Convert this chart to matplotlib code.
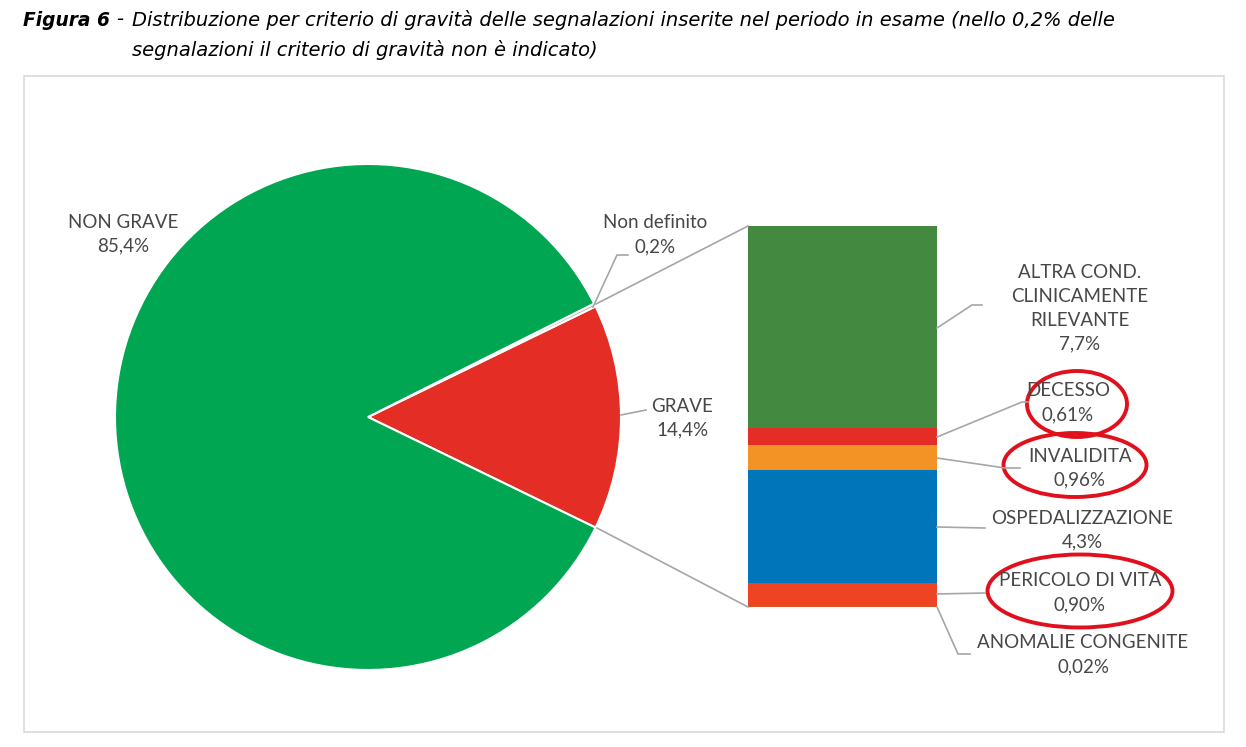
import matplotlib.pyplot as plt
from matplotlib.patches import Ellipse, Rectangle

# pie: overall severity split
pie_labels = ["GRAVE", "Non definito", "NON GRAVE"]
pie_values = [14.4, 0.2, 85.4]
pie_text = ["14,4%", "0,2%", "85,4%"]
pie_colors = ["#E42D24", "#A6A6A6", "#00A651"]

# stacked bar: breakdown of GRAVE (bottom to top)
bar_labels = ["ANOMALIE CONGENITE", "PERICOLO DI VITA", "OSPEDALIZZAZIONE",
              "INVALIDITA", "DECESSO", "ALTRA COND.\nCLINICAMENTE\nRILEVANTE"]
bar_values = [0.02, 0.90, 4.3, 0.96, 0.61, 7.7]
bar_text = ["0,02%", "0,90%", "4,3%", "0,96%", "0,61%", "7,7%"]
bar_colors = ["#D9541E", "#EE4423", "#0075B9", "#F39325", "#E52D27", "#43893F"]
circled = ["PERICOLO DI VITA", "INVALIDITA", "DECESSO"]

W, H = 1246, 747
plt.rcParams['font.family'] = ['Lato', 'DejaVu Sans']
txt_col = '#474747'
line_col = '#A6A6A6'
title_font = ['DejaVu Sans']


def Y(y):
    return H - y


fig = plt.figure(figsize=(W / 100, H / 100), dpi=100)
ax = fig.add_axes([0, 0, 1, 1])

# outer frame
ax.add_patch(Rectangle((24, Y(732)), 1200, 656, fill=False, ec='#D9D9D9', lw=1.2))

# title
tkw = dict(fontsize=14, fontstyle='italic', va='center', ha='left', color='black',
           family=title_font)
ax.text(23, Y(20), "Figura 6", fontweight='bold', **dict(tkw, fontsize=13.4))
ax.text(116, Y(20), "-", **tkw)
ax.text(132, Y(20), "Distribuzione per criterio di gravità delle segnalazioni inserite nel periodo in esame (nello 0,2% delle", **tkw)
ax.text(132, Y(50), "segnalazioni il criterio di gravità non è indicato)", **tkw)

# pie
cx, cy, r = 368, Y(417), 253
start = -pie_values[0] / sum(pie_values) * 360 / 2
ax.pie(pie_values, colors=pie_colors, startangle=start, counterclock=True,
       center=(cx, cy), radius=r, wedgeprops=dict(edgecolor='white', linewidth=1.5))

ax.text(123, Y(234), "NON GRAVE\n" + pie_text[2], fontsize=13.5, ha='center', va='center',
        color=txt_col, linespacing=1.5)
ax.text(655, Y(235), "Non definito\n" + pie_text[1], fontsize=13.5, ha='center', va='center',
        color=txt_col, linespacing=1.5)
ax.plot([593, 617, 628], [Y(307), Y(255), Y(255)], color=line_col, lw=1.2)
ax.text(682, Y(418), "GRAVE\n" + pie_text[0], fontsize=13.5, ha='center', va='center',
        color=txt_col, linespacing=1.5)
ax.plot([621, 646], [Y(415), Y(410)], color=line_col, lw=1.2)

# stacked bar
bx0, bx1 = 748, 937
bar_bottom = Y(607)
px_per = 381 / sum(bar_values)
bottom = bar_bottom
for v, c in zip(bar_values, bar_colors):
    ax.bar((bx0 + bx1) / 2, v * px_per, width=bx1 - bx0, bottom=bottom, color=c, lw=0)
    bottom += v * px_per

# connectors pie -> bar
ax.plot([596, bx0], [Y(304), Y(226)], color=line_col, lw=1.2)
ax.plot([597, bx0], [Y(528), Y(607)], color=line_col, lw=1.2)

# bar labels: text center and leader lines
label_pos = [(1083, 655), (1080, 593), (1082, 530), (1080, 468), (1068, 403), (1080, 308)]
leaders = [
    [(937, 607), (958, 654), (970, 654)],
    [(937, 594), (985, 593)],
    [(937, 527), (985, 528)],
    [(937, 458), (1005, 468), (1020, 468)],
    [(937, 437), (1022, 402), (1028, 402)],
    [(937, 328), (972, 305), (982, 305)],
]
for lab, t, (tx, ty), ld in zip(bar_labels, bar_text, label_pos, leaders):
    ax.text(tx, Y(ty), lab + "\n" + t, fontsize=13.5, ha='center', va='center',
            color=txt_col, linespacing=1.5)
    ax.plot([p[0] for p in ld], [Y(p[1]) for p in ld], color=line_col, lw=1.2)

# red hand-drawn circles
ellipses = {"PERICOLO DI VITA": (1080, 591, 185, 73),
            "INVALIDITA": (1075, 465, 143, 64),
            "DECESSO": (1077, 404, 100, 66)}
for name in circled:
    ex, ey, ew, eh = ellipses[name]
    ax.add_patch(Ellipse((ex, Y(ey)), ew, eh, fill=False, ec='#E0101C', lw=2.8))

ax.set_xlim(0, W)
ax.set_ylim(0, H)
ax.set_aspect('equal')
ax.axis('off')

fig.savefig('out.png', dpi=100)
